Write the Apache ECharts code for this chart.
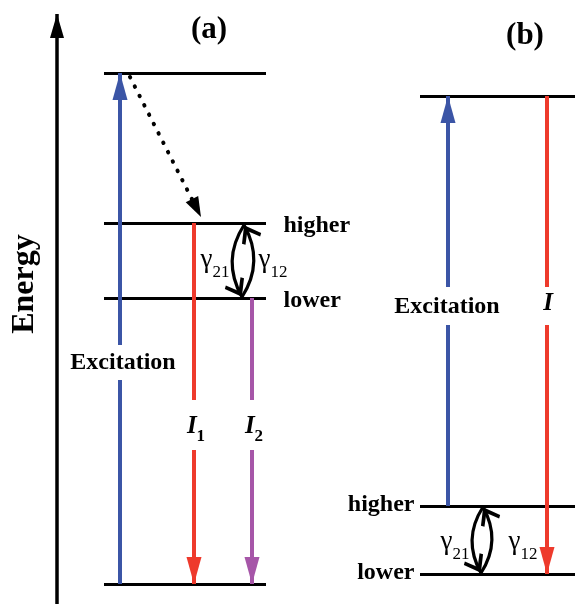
<!DOCTYPE html>
<html><head><meta charset="utf-8">
<script src="https://cdn.jsdelivr.net/npm/echarts@6/dist/echarts.min.js"></script>
<style>html,body{margin:0;padding:0;background:#fff}#c{width:575px;height:604px}</style>
</head><body><div id="c"></div>
<script>
// ---------- data (diagram units: x across, y = energy upward) ----------
const levelEnergyA = [531, 381, 306, 20];      // top, higher, lower, ground
const levelSpanA = [104, 266];
const levelEnergyB = [508, 98, 30];            // top, higher, lower
const levelSpanB = [420, 575];

const transNames = ['ExcA', 'I1', 'I2', 'ExcB', 'I'];
const transX = [120, 194, 252, 448, 547];
const transFrom = [20, 381, 306, 98, 508];
const transTo = [531, 20, 20, 508, 30];
const transGapLow = [224, 154, 154, 279, 279];
const transGapHigh = [259, 204, 204, 317, 317];
const transKind = ['blue', 'red', 'purple', 'blue', 'red'];

const relaxFrom = [130, 527];
const relaxTo = [201, 387];

const gammaTop = [[244, 379], [483, 97]];
const gammaBottom = [[242, 307], [481, 31]];

const energyAxisX = 57;
const energyAxisRange = [0, 590];

const titleText = ['(a)', '(b)'];
const titleAt = [[209, 574], [525, 568]];
const excText = ['Excitation', 'Excitation'];
const excAt = [[123, 241], [447, 297]];
const levelLabelA = ['higher', 'lower'];
const levelLabelAAt = [[283, 378], [283, 303]];
const levelLabelB = ['higher', 'lower'];
const levelLabelBAt = [[415, 99], [415, 31]];
const gammaText = ['{g|γ}{s|21}', '{g|γ}{s|12}', '{g|γ}{s|21}', '{g|γ}{s|12}'];
const gammaAt = [[215, 336], [273, 336], [455, 54], [523, 54]];
const intText = ['{i|I}{s|1}', '{i|I}{s|2}', '{i|I}'];
const intAt = [[196, 171], [254, 171], [548, 294]];

// ---------- styles ----------
const COLORS = {blue: '#3B55A6', red: '#EE3A2C', purple: '#A656A8', black: '#000'};
const FONT = '"Liberation Serif", "DejaVu Serif", serif';
const TRI = {path: 'path://M0,-27 M0,0 L7.5,27 L-7.5,27 Z', size: [15, 54]};
const AX_TRI = {path: 'path://M0,-24 M0,0 L7,24 L-7,24 Z', size: [14, 48]};
const DOT_TRI = {path: 'path://M0,-20 M0,0 L7,20 L-7,20 Z', size: [14, 40]};
const CHEV = {path: 'path://M0,-18 M0,0 L11,15 L8.4,17.5 L0,6.5 L-8.4,17.5 L-11,15 Z', size: [22, 36]};

function seg(p, q, color, width, arrow) {
  return {
    coords: [p, q],
    lineStyle: {color: color, width: width, opacity: 1},
    symbol: arrow ? ['none', arrow.path] : ['none', 'none'],
    symbolSize: arrow ? [0, arrow.size] : [0, 0]
  };
}

const levelData = [];
levelEnergyA.forEach(e => levelData.push(seg([levelSpanA[0], e], [levelSpanA[1], e], COLORS.black, 3)));
levelEnergyB.forEach(e => levelData.push(seg([levelSpanB[0], e], [levelSpanB[1], e], COLORS.black, 3)));

const transData = [];
transNames.forEach((n, i) => {
  const up = transTo[i] > transFrom[i];
  const c = COLORS[transKind[i]];
  const g1 = up ? transGapLow[i] : transGapHigh[i];
  const g2 = up ? transGapHigh[i] : transGapLow[i];
  transData.push(seg([transX[i], transFrom[i]], [transX[i], g1], c, 4));
  transData.push(seg([transX[i], g2], [transX[i], transTo[i]], c, 4, TRI));
});

const axisData = [seg([energyAxisX, energyAxisRange[0]], [energyAxisX, energyAxisRange[1]], COLORS.black, 3.5, AX_TRI)];
const relaxData = [seg(relaxFrom, relaxTo, COLORS.black, 4, DOT_TRI)];

const curveData = [];
gammaTop.forEach((t, i) => {
  curveData.push(seg(t, gammaBottom[i], COLORS.black, 3.2, CHEV));
  curveData.push(seg(gammaBottom[i], t, COLORS.black, 3.2, CHEV));
});

function labelSeries(texts, pts, label) {
  return {
    type: 'scatter', silent: true, symbol: 'circle', symbolSize: 1,
    itemStyle: {color: 'rgba(255,255,255,0)', opacity: 1},
    data: texts.map((t, i) => ({value: pts[i], name: t})),
    label: Object.assign({show: true, formatter: p => p.name, color: '#000', opacity: 1,
      fontFamily: FONT, textBorderWidth: 0}, label),
    z: 10
  };
}

const richSub = {
  g: {fontFamily: FONT, fontSize: 27, color: '#000', lineHeight: 26, padding: [0, 0, 17, 0]},
  i: {fontFamily: FONT, fontSize: 25, fontWeight: 'bold', fontStyle: 'italic', color: '#000', lineHeight: 25, padding: [0, 0, 13, 0]},
  s: {fontFamily: FONT, fontSize: 17, color: '#000', lineHeight: 16, verticalAlign: 'bottom'}
};
const richSubBold = Object.assign({}, richSub, {s: Object.assign({}, richSub.s, {fontWeight: 'bold'})});

const option = {
  backgroundColor: '#fff',
  animation: false,
  textStyle: {fontFamily: FONT},
  grid: {left: 0, right: 0, top: 0, bottom: 0},
  xAxis: {type: 'value', min: 0, max: 575, show: false},
  yAxis: {type: 'value', min: 0, max: 604, show: false},
  series: [
    {type: 'lines', coordinateSystem: 'cartesian2d', silent: true, data: levelData},
    {type: 'lines', coordinateSystem: 'cartesian2d', silent: true, data: transData},
    {type: 'lines', coordinateSystem: 'cartesian2d', silent: true, data: axisData},
    {type: 'lines', coordinateSystem: 'cartesian2d', silent: true, data: relaxData,
      lineStyle: {type: [0.5, 10], cap: 'round'}},
    {type: 'lines', coordinateSystem: 'cartesian2d', silent: true, data: curveData,
      lineStyle: {curveness: -0.3}},
    labelSeries(titleText, titleAt, {position: 'inside', fontSize: 31, fontWeight: 'bold'}),
    labelSeries(excText, excAt, {position: 'inside', fontSize: 24, fontWeight: 'bold'}),
    labelSeries(levelLabelA, levelLabelAAt, {position: 'right', distance: 0, fontSize: 24, fontWeight: 'bold'}),
    labelSeries(levelLabelB, levelLabelBAt, {position: 'left', distance: 0, fontSize: 24, fontWeight: 'bold'}),
    labelSeries(gammaText, gammaAt, {position: 'inside', rich: richSub}),
    labelSeries(intText, intAt, {position: 'inside', rich: richSubBold}),
    labelSeries(['Energy'], [[25, 320]], {position: 'inside', rotate: 90, fontSize: 32, fontWeight: 'bold'})
  ]
};
const chart = echarts.init(document.getElementById('c'), null, {renderer: 'canvas'});
chart.setOption(option);
</script>
</body></html>
